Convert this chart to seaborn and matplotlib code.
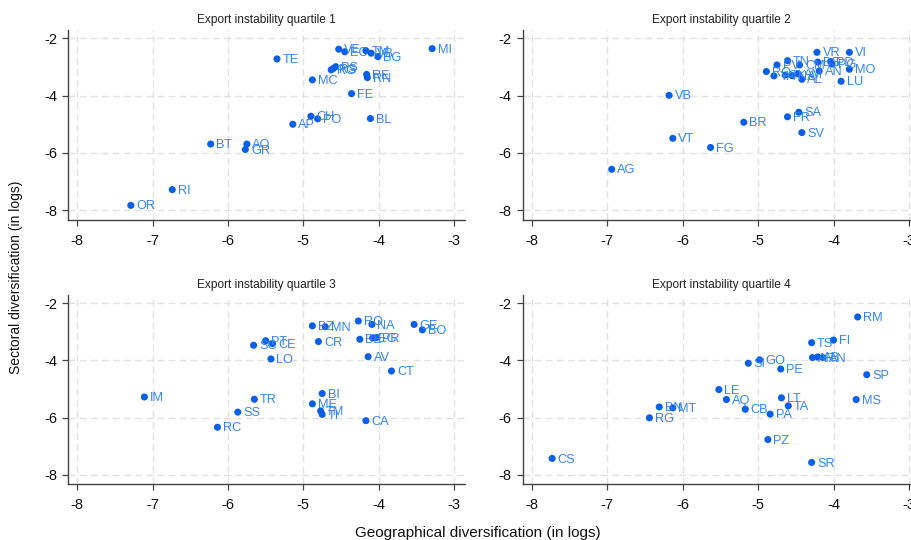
import matplotlib
matplotlib.use("Agg")
import matplotlib.pyplot as plt
import seaborn as sns
import pandas as pd

# ---------------- data ----------------
q1_labels = ["MI", "TE", "VE", "EC", "TM", "VB", "BG", "RG", "RS", "PS", "MC", "RE", "RN", "FE",
             "CH", "PO", "BL", "AP", "BT", "AO", "GR", "RI", "OR"]
q1_x = [-3.29, -5.35, -4.53, -4.45, -4.17, -4.10, -4.01, -4.63, -4.60, -4.57, -4.88, -4.16, -4.15, -4.36,
        -4.90, -4.81, -4.11, -5.14, -6.23, -5.75, -5.77, -6.74, -7.29]
q1_y = [-2.36, -2.72, -2.38, -2.47, -2.43, -2.52, -2.64, -3.10, -3.05, -2.99, -3.45, -3.26, -3.37, -3.93,
        -4.72, -4.81, -4.80, -5.00, -5.69, -5.69, -5.88, -7.28, -7.83]

q2_labels = ["VR", "VI", "TN", "PV", "RO", "YA", "TK", "NA", "AM", "CM", "AL", "BS", "PD", "PG",
             "AN", "MO", "LU", "VB", "SA", "FR", "BR", "SV", "VT", "FG", "AG"]
q2_x = [-4.22, -3.79, -4.61, -4.75, -4.89, -4.79, -4.64, -4.55, -4.47, -4.45, -4.42, -4.21, -4.04, -4.02,
        -4.19, -3.79, -3.90, -6.18, -4.46, -4.61, -5.19, -4.42, -6.13, -5.63, -6.94]
q2_y = [-2.49, -2.49, -2.78, -2.93, -3.16, -3.31, -3.28, -3.30, -3.24, -2.93, -3.43, -2.83, -2.81, -2.90,
        -3.14, -3.08, -3.50, -3.99, -4.58, -4.74, -4.93, -5.29, -5.49, -5.81, -6.57]

q3_labels = ["RO", "NA", "GE", "BO", "BZ", "MN", "BE", "EG", "PR", "CR", "AV", "CT", "PT", "CE",
             "SC", "LO", "IM", "TR", "SS", "RC", "BI", "ME", "TM", "TI", "CA"]
q3_x = [-4.27, -4.09, -3.53, -3.42, -4.88, -4.71, -4.25, -4.08, -4.03, -4.80, -4.14, -3.83, -5.50, -5.41,
        -5.66, -5.43, -7.11, -5.65, -5.87, -6.14, -4.75, -4.88, -4.77, -4.75, -4.17]
q3_y = [-2.62, -2.74, -2.74, -2.93, -2.79, -2.82, -3.26, -3.21, -3.20, -3.34, -3.87, -4.37, -3.31, -3.41,
        -3.47, -3.95, -5.28, -5.36, -5.81, -6.34, -5.16, -5.52, -5.77, -5.89, -6.11]

q4_labels = ["RM", "TS", "FI", "AR", "AB", "AN", "GO", "SI", "PE", "SP", "LE", "AQ", "LT", "TA",
             "MS", "BN", "MT", "CB", "PA", "RG", "PZ", "CS", "SR"]
q4_x = [-3.68, -4.29, -4.00, -4.28, -4.21, -4.14, -4.98, -5.13, -4.70, -3.56, -5.52, -5.42, -4.69, -4.60,
        -3.70, -6.31, -6.13, -5.17, -4.84, -6.44, -4.87, -7.73, -4.29]
q4_y = [-2.48, -3.38, -3.29, -3.90, -3.88, -3.90, -3.98, -4.10, -4.30, -4.50, -5.02, -5.37, -5.31, -5.59,
        -5.37, -5.63, -5.66, -5.71, -5.88, -6.01, -6.77, -7.43, -7.57]

panel_titles = ["Export instability quartile 1", "Export instability quartile 2",
                "Export instability quartile 3", "Export instability quartile 4"]
x_ticks = [-8, -7, -6, -5, -4, -3]
y_ticks = [-8, -6, -4, -2]
x_label = "Geographical diversification (in logs)"
y_label = "Sectoral diversification (in logs)"

panels = [(q1_labels, q1_x, q1_y), (q2_labels, q2_x, q2_y),
          (q3_labels, q3_x, q3_y), (q4_labels, q4_x, q4_y)]

# ---------------- style ----------------
sns.set_style("white")
plt.rcParams["font.family"] = ["Liberation Sans", "DejaVu Sans"]
plt.rcParams["axes.unicode_minus"] = False

W, H = 912, 540
fig = plt.figure(figsize=(W / 100, H / 100), dpi=100)

marker_color = "#0a5fe8"
text_color = "#3384f2"

# axes rectangles in pixels: (left, top, right, bottom)
rects = [(68.3, 29.7, 465.3, 220.0),
         (522.7, 29.7, 920.3, 220.0),
         (68.3, 294.7, 465.3, 484.4),
         (522.7, 294.7, 920.3, 484.4)]

for (labels, xs, ys), title, (l, t, r, b) in zip(panels, panel_titles, rects):
    ax = fig.add_axes([l / W, 1 - b / H, (r - l) / W, (b - t) / H])
    df = pd.DataFrame({"x": xs, "y": ys, "lab": labels})
    sns.scatterplot(data=df, x="x", y="y", ax=ax, color=marker_color, s=26,
                    edgecolor="none", linewidth=0, zorder=3)
    for _, row in df.iterrows():
        ax.annotate(row["lab"], (row["x"], row["y"]), xytext=(4, -0.8),
                    textcoords="offset points", ha="left", va="center",
                    fontsize=9.2, color=text_color, zorder=4)
    ax.set_xlim(-8.12, -2.85)
    ax.set_ylim(-8.34, -1.7)
    ax.set_xticks(x_ticks)
    ax.set_yticks(y_ticks)
    ax.set_xlabel("")
    ax.set_ylabel("")
    ax.grid(True, color="#e2e2e2", linestyle=(0, (5, 3)), linewidth=1.0, zorder=0)
    for s in ["top", "right"]:
        ax.spines[s].set_visible(False)
    for s in ["left", "bottom"]:
        ax.spines[s].set_color("#444444")
        ax.spines[s].set_linewidth(1.0)
    ax.tick_params(axis="both", which="major", direction="out", length=4, width=0.9,
                   color="#444444", labelsize=10.5, labelcolor="#111111", pad=4,
                   bottom=True, left=True)
    ax.tick_params(axis="x", pad=6)
    ax.set_title(title, fontsize=8.6, color="#222222", pad=5)
    ax.set_facecolor("white")

fig.text(16 / W, 1 - 277 / H, y_label, rotation=90, ha="center", va="center",
         fontsize=10, color="#111111")
fig.text(478 / W, 1 - 533 / H, x_label, ha="center", va="center",
         fontsize=11, color="#111111")

fig.savefig("out.png", dpi=100)
